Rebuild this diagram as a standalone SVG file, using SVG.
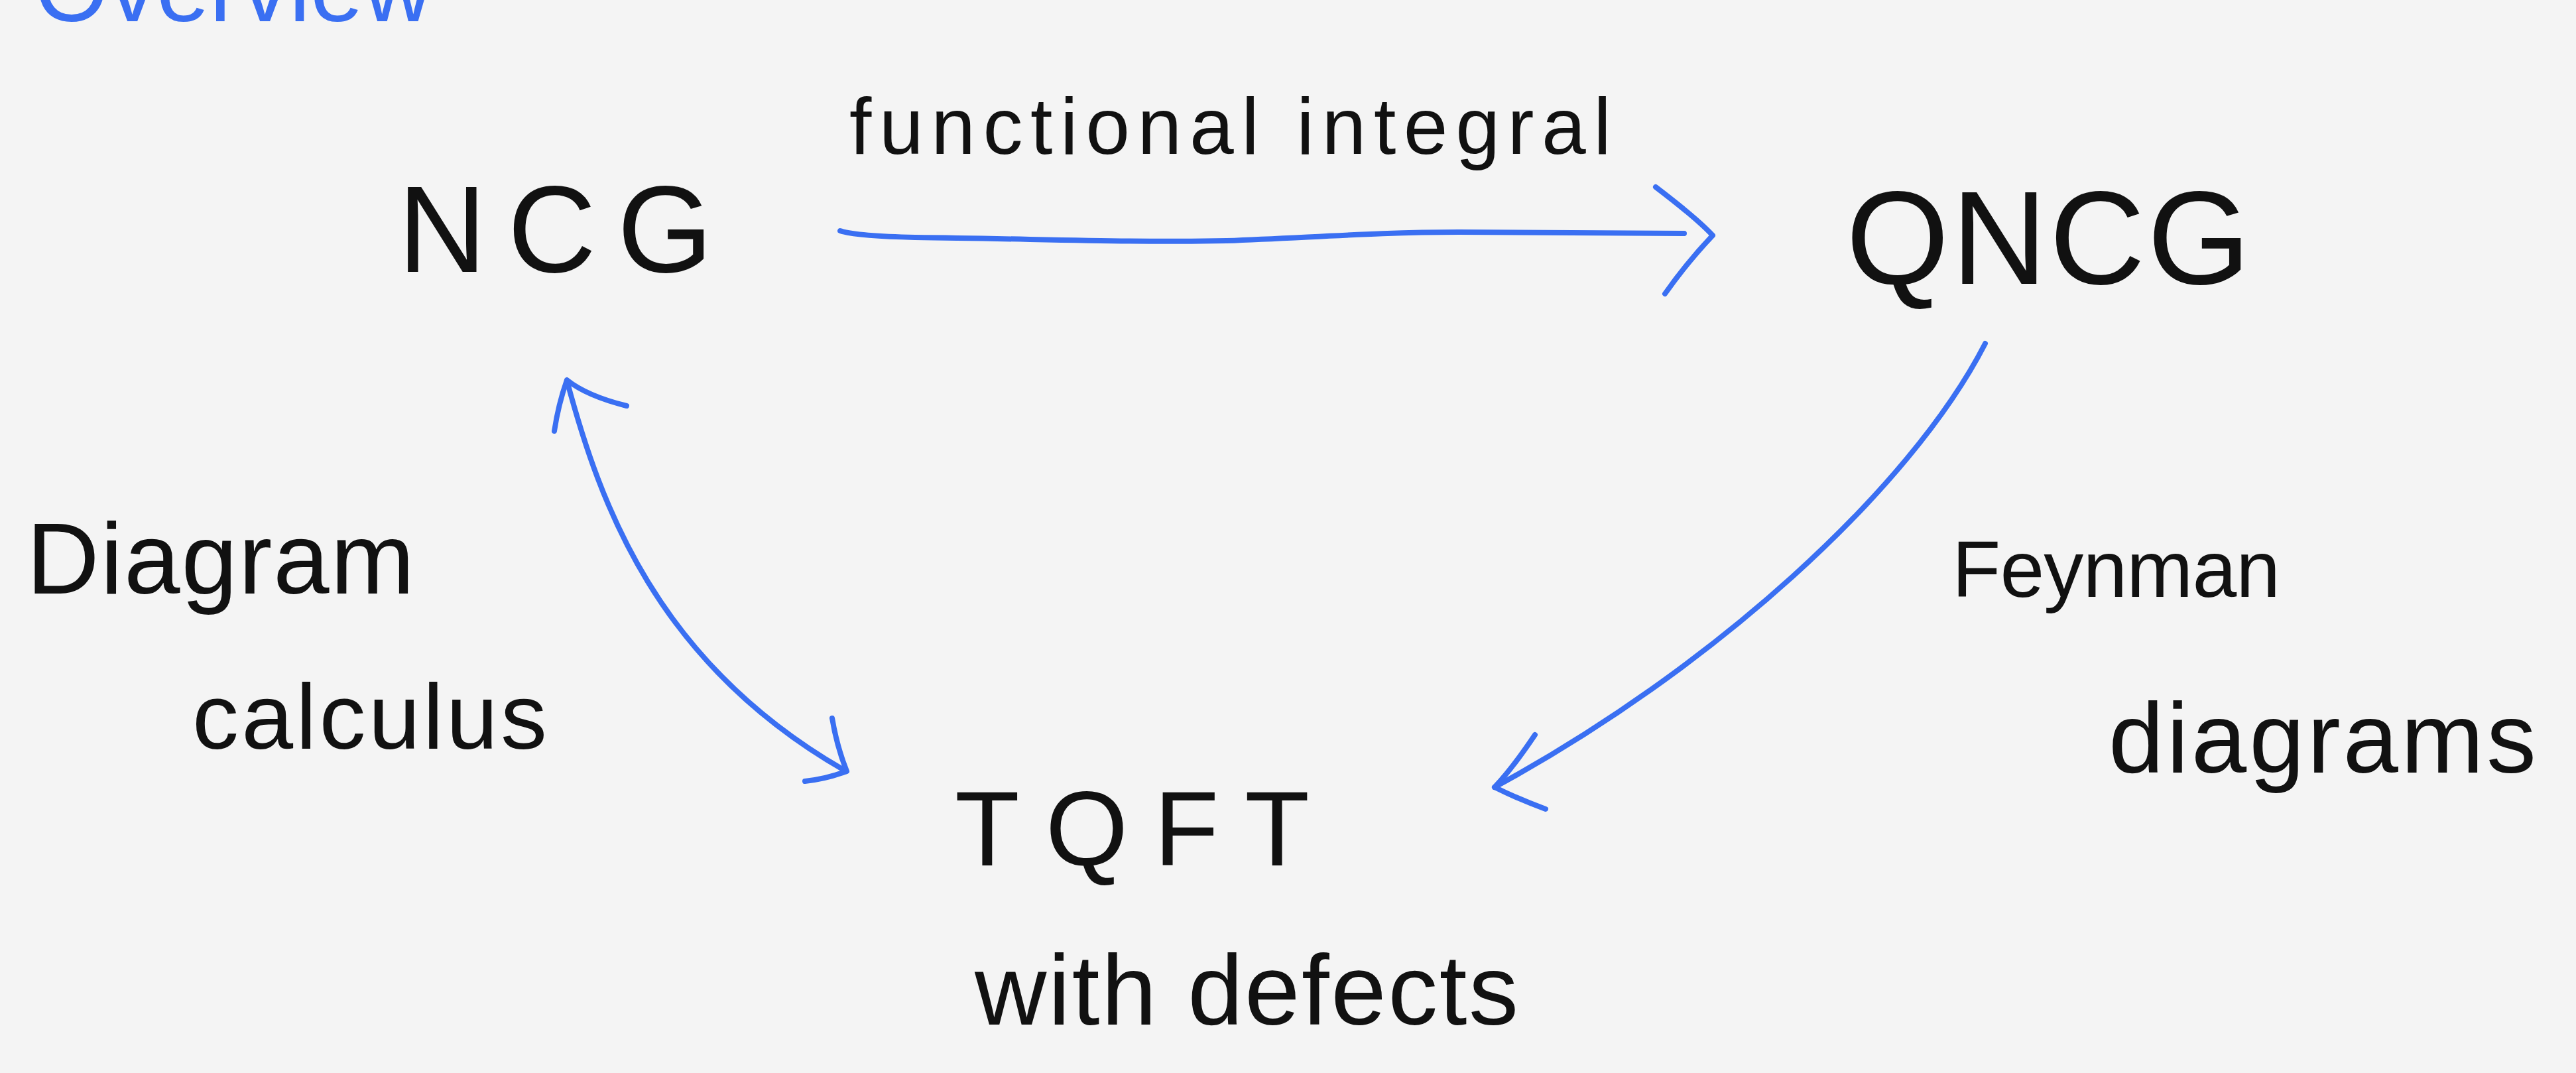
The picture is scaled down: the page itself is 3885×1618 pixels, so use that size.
<svg xmlns="http://www.w3.org/2000/svg" width="3885" height="1618" viewBox="0 0 3885 1618">
<style>
.bg{fill:#f4f4f4}
.node{font-family:"Liberation Sans",Arial,sans-serif;fill:#111}
.lbl{font-family:"Liberation Sans",Arial,sans-serif;fill:#111}
.title{font-family:"Liberation Sans",Arial,sans-serif;fill:#3a6ff2}
.edge{fill:none;stroke:#3a6ff2;stroke-width:8;stroke-linecap:round;stroke-linejoin:round}
</style>
<rect class="bg" x="0" y="0" width="3885" height="1618"/>
<g id="title">
<text class="title" x="52" y="32" font-size="144" textLength="600" lengthAdjust="spacing">Overview</text>
</g>
<g id="node-ncg">
<text class="node" x="600" y="410" font-size="185" textLength="475" lengthAdjust="spacing">NCG</text>
</g>
<g id="node-qncg">
<text class="node" x="2784" y="428" font-size="200" textLength="610" lengthAdjust="spacing">QNCG</text>
</g>
<g id="node-tqft">
<text class="node" x="1440" y="1305" font-size="160" textLength="535" lengthAdjust="spacing">TQFT</text>
<text class="node" x="1470" y="1545" font-size="150" textLength="820" lengthAdjust="spacing">with defects</text>
</g>
<g id="connectors">
<g id="edge-ncg-qncg">
<path class="edge" d="M1267,348 Q1290,356 1380,358 C1560,360 1700,366 1850,363 C1980,358 2080,350 2200,350 L2540,352"/>
<path class="edge" d="M2497,282 Q2560,330 2583,355 Q2545,395 2511,443"/>
</g>
<g id="edge-ncg-tqft">
<path class="edge" d="M855,574 C905,760 990,1000 1276,1163"/>
<path class="edge" d="M945,612 Q885,597 855,573 Q842,610 836,650"/>
<path class="edge" d="M1255,1083 Q1262,1125 1277,1163 Q1245,1175 1214,1178"/>
</g>
<g id="edge-qncg-tqft">
<path class="edge" d="M2994,518 C2880,740 2580,1010 2254,1187"/>
<path class="edge" d="M2315,1108 Q2280,1160 2254,1187 Q2290,1205 2331,1220"/>
</g>
</g>
<g id="labels">
<text class="lbl" x="1281" y="232" font-size="120" textLength="1149" lengthAdjust="spacing">functional integral</text>
<text class="lbl" x="40" y="895" font-size="152" textLength="585" lengthAdjust="spacing">Diagram</text>
<text class="lbl" x="290" y="1129" font-size="140" textLength="535" lengthAdjust="spacing">calculus</text>
<text class="lbl" x="2944" y="900" font-size="120" textLength="495" lengthAdjust="spacing">Feynman</text>
<text class="lbl" x="3180" y="1165" font-size="150" textLength="645" lengthAdjust="spacing">diagrams</text>
</g>
</svg>
